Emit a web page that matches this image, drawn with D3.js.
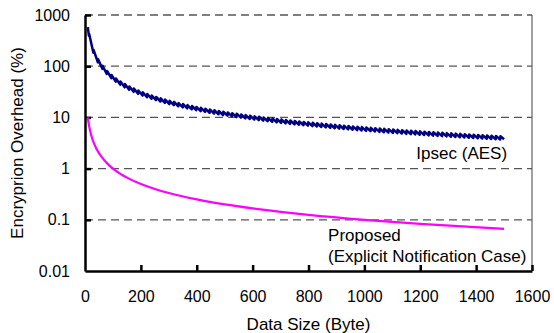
<!DOCTYPE html>
<html>
<head>
<meta charset="utf-8">
<script src="https://cdn.jsdelivr.net/npm/d3@7"></script>
<style>
  body { margin: 0; background: #fff; }
  text { font-family: "Liberation Sans", Arial, sans-serif; fill: #000; }
</style>
</head>
<body>
<div id="chart"></div>
<script>
// tick labels
const xTicks = [0, 200, 400, 600, 800, 1000, 1200, 1400, 1600];
const yTicks = [0.01, 0.1, 1, 10, 100, 1000];
const yGrid = [0.1, 1, 10, 100, 1000];

// Ipsec (AES): sawtooth from 16-byte block padding (trough / peak pairs)
const ipsecSize = [10,
  14,15, 30,31, 46,47, 62,63, 78,79, 94,95, 110,111, 126,127, 142,143, 158,159,
  174,175, 190,191, 206,207, 222,223, 238,239, 254,255, 270,271, 286,287, 302,303, 318,319,
  334,335, 350,351, 366,367, 382,383, 398,399, 414,415, 430,431, 446,447, 462,463, 478,479,
  494,495, 510,511, 526,527, 542,543, 558,559, 574,575, 590,591, 606,607, 622,623, 638,639,
  654,655, 670,671, 686,687, 702,703, 718,719, 734,735, 750,751, 766,767, 782,783, 798,799,
  814,815, 830,831, 846,847, 862,863, 878,879, 894,895, 910,911, 926,927, 942,943, 958,959,
  974,975, 990,991, 1006,1007, 1022,1023, 1038,1039, 1054,1055, 1070,1071, 1086,1087, 1102,1103, 1118,1119,
  1134,1135, 1150,1151, 1166,1167, 1182,1183, 1198,1199, 1214,1215, 1230,1231, 1246,1247, 1262,1263, 1278,1279,
  1294,1295, 1310,1311, 1326,1327, 1342,1343, 1358,1359, 1374,1375, 1390,1391, 1406,1407, 1422,1423, 1438,1439,
  1454,1455, 1470,1471, 1486,1487, 1500];
const ipsecOverhead = [580,
  392.9,426.7, 183.3,206.5, 119.6,136.2, 88.7,101.6, 70.5,81.0, 58.5,67.4, 50.0,57.7, 43.7,50.4, 38.7,44.8, 34.8,40.3,
  31.6,36.6, 28.9,33.5, 26.7,30.9, 24.8,28.7, 23.1,26.8, 21.7,25.1, 20.4,23.6, 19.2,22.3, 18.2,21.1, 17.3,20.1,
  16.5,19.1, 15.7,18.2, 15.0,17.4, 14.4,16.7, 13.8,16.0, 13.3,15.4, 12.8,14.8, 12.3,14.3, 11.9,13.8, 11.5,13.4,
  11.1,12.9, 10.8,12.5, 10.5,12.1, 10.1,11.8, 9.86,11.4, 9.58,11.1, 9.32,10.8, 9.08,10.5, 8.84,10.3, 8.62,10.0,
  8.41,9.77, 8.21,9.54, 8.02,9.32, 7.83,9.10, 7.66,8.90, 7.49,8.71, 7.33,8.52, 7.18,8.34, 7.03,8.17, 6.89,8.01,
  6.76,7.85, 6.63,7.70, 6.50,7.56, 6.38,7.42, 6.26,7.28, 6.15,7.15, 6.04,7.03, 5.94,6.90, 5.84,6.79, 5.74,6.67,
  5.65,6.56, 5.56,6.46, 5.47,6.36, 5.38,6.26, 5.30,6.16, 5.22,6.07, 5.14,5.98, 5.06,5.89, 4.99,5.80, 4.92,5.72,
  4.85,5.64, 4.78,5.56, 4.72,5.48, 4.65,5.41, 4.59,5.34, 4.53,5.27, 4.47,5.20, 4.41,5.13, 4.36,5.07, 4.30,5.00,
  4.25,4.94, 4.20,4.88, 4.15,4.82, 4.10,4.77, 4.05,4.71, 4.00,4.65, 3.96,4.60, 3.91,4.55, 3.87,4.50, 3.82,4.45,
  3.78,4.40, 3.74,4.35, 3.70,4.30, 3.75];

// Proposed (Explicit Notification Case)
const propSize = [10, 12, 15, 20, 25, 30, 40, 50, 60, 80, 100, 125, 150, 200, 250, 300,
  400, 500, 600, 700, 800, 1000, 1200, 1500];
const propOverhead = [10, 8.33, 6.67, 5, 4, 3.33, 2.5, 2, 1.67, 1.25, 1, 0.8, 0.667, 0.5, 0.4, 0.333,
  0.25, 0.2, 0.167, 0.143, 0.125, 0.1, 0.0833, 0.0667];

const W = 554, H = 333;
const margin = {top: 15, right: 22, bottom: 62, left: 85};
const w = W - margin.left - margin.right,
      h = H - margin.top - margin.bottom;

const svg = d3.select("#chart").append("svg")
  .attr("width", W).attr("height", H);

const g = svg.append("g")
  .attr("transform", "translate(" + margin.left + "," + margin.top + ")");

const x = d3.scaleLinear().domain([0, 1600]).range([0, w]);
const y = d3.scaleLog().domain([0.01, 1000]).range([h, 0]);

// right border
g.append("line")
  .attr("x1", w).attr("x2", w).attr("y1", 0).attr("y2", h)
  .style("stroke", "#808080").style("stroke-width", 1.5);

// dashed gridlines
g.selectAll(".grid")
  .data(yGrid)
  .enter().append("line")
  .attr("class", "grid")
  .attr("x1", 0).attr("x2", w)
  .attr("y1", d => y(d)).attr("y2", d => y(d))
  .style("stroke", "#555")
  .style("stroke-width", 1.3)
  .style("stroke-dasharray", "8,5");

// axes (ticks point inward)
const xAxis = g.append("g")
  .attr("transform", "translate(0," + h + ")")
  .call(d3.axisBottom(x).tickValues(xTicks).tickFormat(d => String(d))
    .tickSizeInner(-6).tickSizeOuter(0).tickPadding(20));
const yAxis = g.append("g")
  .call(d3.axisLeft(y).tickValues(yTicks).tickFormat(d => String(d))
    .tickSizeInner(-6).tickSizeOuter(0).tickPadding(15));

[xAxis, yAxis].forEach(a => {
  a.select(".domain").style("stroke", "#000").style("stroke-width", 2.5);
  a.selectAll(".tick line").style("stroke", "#000").style("stroke-width", 2.5);
  a.selectAll(".tick text").style("font-size", "16px")
    .style("font-family", "'Liberation Sans', Arial, sans-serif");
});
xAxis.selectAll(".tick").filter(d => d === 0).select("line").remove();
yAxis.selectAll(".tick").filter(d => d === 0.01).select("line").remove();

// series
const line = d3.line()
  .x(d => x(d[0]))
  .y(d => y(d[1]));

g.append("path")
  .datum(ipsecSize.map((s, i) => [s, ipsecOverhead[i]]))
  .attr("d", line)
  .style("fill", "none")
  .style("stroke", "#000080")
  .style("stroke-width", 2.5)
  .style("stroke-linejoin", "round");

g.append("path")
  .datum(propSize.map((s, i) => [s, propOverhead[i]]))
  .attr("d", line.curve(d3.curveMonotoneX))
  .style("fill", "none")
  .style("stroke", "#ff00ff")
  .style("stroke-width", 2.2);

// series labels
g.append("text")
  .attr("x", x(1500) + 3).attr("y", y(10) + 42)
  .attr("text-anchor", "end")
  .style("font-size", "17px")
  .text("Ipsec (AES)");

g.append("text")
  .attr("x", x(870)).attr("y", y(0.1) + 21)
  .style("font-size", "17px")
  .text("Proposed");
g.append("text")
  .attr("x", x(870)).attr("y", y(0.1) + 42)
  .style("font-size", "17px")
  .text("(Explicit Notification Case)");

// axis titles
svg.append("text")
  .attr("x", margin.left + w / 2).attr("y", 330)
  .attr("text-anchor", "middle")
  .style("font-size", "17px")
  .text("Data Size (Byte)");

svg.append("text")
  .attr("transform", "translate(23," + (margin.top + h / 2) + ") rotate(-90)")
  .attr("text-anchor", "middle")
  .style("font-size", "17px")
  .text("Encryprion Overhead (%)");
</script>
</body>
</html>
